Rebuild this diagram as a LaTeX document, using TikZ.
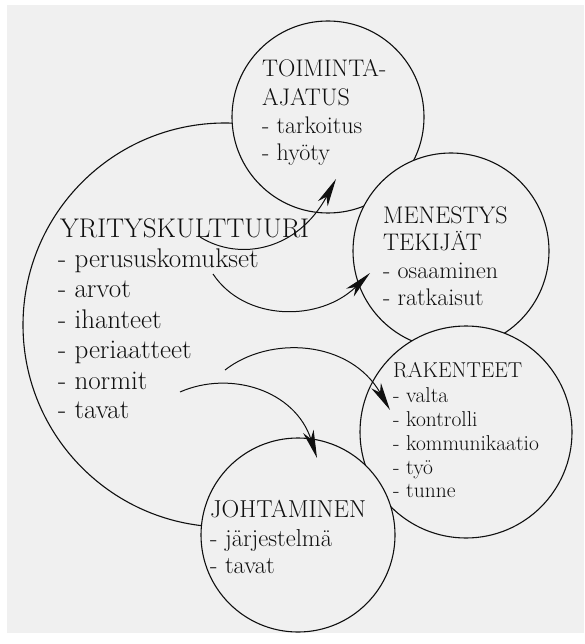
\documentclass[tikz,border=0pt]{standalone}
\usepackage{fontspec}
\usetikzlibrary{arrows.meta}
\definecolor{bg}{RGB}{240,240,240}
\definecolor{ink}{RGB}{15,15,15}
\newcommand{\fYK}{\fontsize{27}{30}\selectfont\addfontfeatures{FakeBold=2.2}}
\newcommand{\fTO}{\fontsize{24}{28}\selectfont\addfontfeatures{FakeBold=2.2}}
\newcommand{\fME}{\fontsize{24}{27}\selectfont\addfontfeatures{FakeBold=2.2}}
\newcommand{\fRA}{\fontsize{21.5}{24}\selectfont\addfontfeatures{FakeBold=2.2}}
\newcommand{\fJO}{\fontsize{24.5}{28}\selectfont\addfontfeatures{FakeBold=2.2}}
\begin{document}
\begin{tikzpicture}[x=1pt,y=-1pt,
  ring/.style={circle,draw=ink,line width=1.1pt,inner sep=0pt},
  bub/.style={ring,fill=bg},
  lbl/.style={anchor=base west,inner sep=0pt,text=ink},
  arr/.style={draw=ink,line width=1pt,-{Stealth[length=28pt,width=11pt,inset=8pt]}}]
\useasboundingbox (0,0) rectangle (584,644);
\fill[white] (0,0) rectangle (584,644);
\fill[bg] (7,5) rectangle (584,633);
% circles
\node[ring,minimum size=404pt] (yk) at (225,325) {};
\node[bub,minimum size=192pt] (to) at (328,117) {};
\node[bub,minimum size=196pt] (me) at (451,251) {};
\node[bub,minimum size=212pt] (ra) at (466,432) {};
\node[bub,minimum size=194pt] (jo) at (298,535) {};
% YRITYSKULTTUURI
\node[lbl,font=\fYK] (y0) at (60,237) {YRITYSKULTTUURI};
\node[lbl,font=\fYK] (y1) at (58,267) {- perususkomukset};
\node[lbl,font=\fYK] (y2) at (58,297) {- arvot};
\node[lbl,font=\fYK] (y3) at (58,328) {- ihanteet};
\node[lbl,font=\fYK] (y4) at (58,358) {- periaatteet};
\node[lbl,font=\fYK] (y5) at (58,389) {- normit};
\node[lbl,font=\fYK] (y6) at (58,418) {- tavat};
% TOIMINTA-AJATUS
\node[lbl,font=\fTO] (t0) at (262,77) {TOIMINTA-};
\node[lbl,font=\fTO] (t1) at (262,106) {AJATUS};
\node[lbl,font=\fTO] (t2) at (262,134) {- tarkoitus};
\node[lbl,font=\fTO] (t3) at (262,161) {- hyöty};
% MENESTYS
\node[lbl,font=\fME] (m0) at (383,223) {MENESTYS};
\node[lbl,font=\fME] (m1) at (383,250) {TEKIJÄT};
\node[lbl,font=\fME] (m2) at (383,278) {- osaaminen};
\node[lbl,font=\fME] (m3) at (383,305) {- ratkaisut};
% RAKENTEET
\node[lbl,font=\fRA] (r0) at (393,377) {RAKENTEET};
\node[lbl,font=\fRA] (r1) at (393,402) {- valta};
\node[lbl,font=\fRA] (r2) at (393,426) {- kontrolli};
\node[lbl,font=\fRA] (r3) at (393,450) {- kommunikaatio};
\node[lbl,font=\fRA] (r4) at (393,474) {- työ};
\node[lbl,font=\fRA] (r5) at (393,497) {- tunne};
% JOHTAMINEN
\node[lbl,font=\fJO] (j0) at (210,517) {JOHTAMINEN};
\node[lbl,font=\fJO] (j1) at (210,546) {- järjestelmä};
\node[lbl,font=\fJO] (j2) at (210,573) {- tavat};
% arrows
\coordinate (a1s) at (200,237);
\coordinate (a1e) at (336,179);
\coordinate (a2s) at (213,274);
\coordinate (a2e) at (370,273);
\coordinate (a3s) at (225,370);
\coordinate (a3e) at (390,410);
\coordinate (a4s) at (180,392);
\coordinate (a4e) at (317,458);
\draw[arr] (a1s) .. controls (240,262) and (298,250) .. (a1e);
\draw[arr] (a2s) .. controls (245,322) and (320,322) .. (a2e);
\draw[arr] (a3s) .. controls (270,335) and (350,340) .. (a3e);
\draw[arr] (a4s) .. controls (230,370) and (295,390) .. (a4e);
\end{tikzpicture}
\end{document}
